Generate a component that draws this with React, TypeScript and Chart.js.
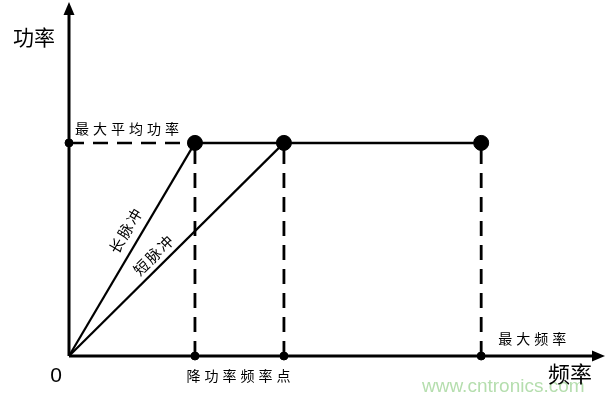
import React, { useEffect, useRef } from "react";
import { Chart, registerables } from "chart.js";

Chart.register(...registerables);

// Data (x: frequency units 0..100, y: power units 0..100)
const axisMax = [100, 100];
const longPulseFreq = 23.5; // frequency where long pulse reaches max power
const derateFreq = 40.1; // 降功率频率点 (short pulse)
const maxFreq = 76.9; // 最大频率
const maxAvgPower = 60.2; // 最大平均功率
const axisLabels = ["频率", "功率", "0"];
const pointLabels = ["最大平均功率", "降功率频率点", "最大频率"];
const lineLabels = ["长脉冲", "短脉冲"];
const watermark = "www.cntronics.com";

const CJK = '"Noto Sans CJK SC", "Noto Sans", sans-serif';

const annotPlugin = {
  id: "annot",
  afterDraw(chart: any) {
    const ctx = chart.ctx;
    const xs = chart.scales.x;
    const ys = chart.scales.y;
    const px = (v: number) => xs.getPixelForValue(v);
    const py = (v: number) => ys.getPixelForValue(v);
    const ox = px(0);
    const oy = py(0);
    ctx.save();
    // watermark
    ctx.fillStyle = "#b5deae";
    ctx.font = '19px "Liberation Sans", Arial, sans-serif';
    ctx.textAlign = "left";
    ctx.textBaseline = "alphabetic";
    ctx.fillText(watermark, 422, 392);

    // arrowheads
    ctx.fillStyle = "#000";
    const xt = px(axisMax[0]);
    ctx.beginPath();
    ctx.moveTo(xt, oy);
    ctx.lineTo(xt - 13, oy - 5.5);
    ctx.lineTo(xt - 13, oy + 5.5);
    ctx.closePath();
    ctx.fill();
    const yt = py(axisMax[1]);
    ctx.beginPath();
    ctx.moveTo(ox, yt);
    ctx.lineTo(ox - 5.5, yt + 13);
    ctx.lineTo(ox + 5.5, yt + 13);
    ctx.closePath();
    ctx.fill();

    // axis labels
    ctx.textAlign = "center";
    ctx.textBaseline = "middle";
    ctx.font = "22px " + CJK;
    ctx.fillText(axisLabels[0], xt - 35, oy + 18);
    ctx.font = "21px " + CJK;
    ctx.fillText(axisLabels[1], ox - 35, yt + 35);
    ctx.font = '21px "Liberation Sans", Arial, sans-serif';
    ctx.fillText(axisLabels[2], ox - 13, oy + 20);

    // point labels
    ctx.font = "14px " + CJK;
    (ctx as any).letterSpacing = "4px";
    ctx.fillText(pointLabels[0], (ox + px(longPulseFreq)) / 2 - 3, py(maxAvgPower) - 14);
    ctx.fillText(pointLabels[1], (px(longPulseFreq) + px(derateFreq)) / 2 + 1, oy + 20);
    ctx.fillText(pointLabels[2], px(maxFreq) + 53, oy - 17);

    // rotated line labels
    const drawAlong = (text: string, x1: number, y1: number, frac: number, off: number) => {
      const dx = x1 - ox;
      const dy = y1 - oy;
      const len = Math.hypot(dx, dy);
      const ux = dx / len;
      const uy = dy / len;
      const nx = uy;
      const ny = -ux;
      const cx = ox + dx * frac + nx * off;
      const cy = oy + dy * frac + ny * off;
      ctx.save();
      ctx.translate(cx, cy);
      ctx.rotate(Math.atan2(dy, dx));
      ctx.fillText(text, 0, 0);
      ctx.restore();
    };
    ctx.font = "15px " + CJK;
    (ctx as any).letterSpacing = "2px";
    drawAlong(lineLabels[0], px(longPulseFreq), py(maxAvgPower), 0.555, 15);
    drawAlong(lineLabels[1], px(derateFreq), py(maxAvgPower), 0.435, 12);
    ctx.restore();
  },
};

const line = (data: any[], width: number, dash: number[] = []) => ({
  type: "line" as const,
  data,
  borderColor: "#000",
  borderWidth: width,
  borderDash: dash,
  pointRadius: 0,
  fill: false,
  clip: false as any,
  tension: 0,
});

export default function App() {
  const ref = useRef<HTMLCanvasElement>(null);
  useEffect(() => {
    if (!ref.current) return;
    const dash = [15, 9];
    const chart = new Chart(ref.current, {
      type: "scatter",
      data: {
        datasets: [
          {
            type: "scatter",
            data: [
              { x: longPulseFreq, y: maxAvgPower },
              { x: derateFreq, y: maxAvgPower },
              { x: maxFreq, y: maxAvgPower },
            ],
            backgroundColor: "#000",
            borderColor: "#000",
            pointRadius: 7.5,
            clip: false as any,
          } as any,
          {
            type: "scatter",
            data: [
              { x: 0, y: maxAvgPower },
              { x: longPulseFreq, y: 0 },
              { x: derateFreq, y: 0 },
              { x: maxFreq, y: 0 },
            ],
            backgroundColor: "#000",
            borderColor: "#000",
            pointRadius: 4,
            clip: false as any,
          } as any,
          line([{ x: 0, y: 0 }, { x: longPulseFreq, y: maxAvgPower }], 2.2),
          line([{ x: 0, y: 0 }, { x: derateFreq, y: maxAvgPower }], 2.2),
          line([{ x: longPulseFreq, y: maxAvgPower }, { x: maxFreq, y: maxAvgPower }], 2.5),
          line([{ x: 0, y: maxAvgPower }, { x: longPulseFreq, y: maxAvgPower }], 2.5, dash),
          line([{ x: longPulseFreq, y: 0 }, { x: longPulseFreq, y: maxAvgPower }], 2.8, dash),
          line([{ x: derateFreq, y: 0 }, { x: derateFreq, y: maxAvgPower }], 2.8, dash),
          line([{ x: maxFreq, y: 0 }, { x: maxFreq, y: maxAvgPower }], 2.8, dash),
          line([{ x: 0, y: 0 }, { x: axisMax[0] - 2, y: 0 }], 3),
          line([{ x: 0, y: 0 }, { x: 0, y: axisMax[1] - 3 }], 3),
        ] as any,
      },
      options: {
        animation: false,
        responsive: false,
        layout: { autoPadding: false, padding: { left: 69, right: 1, top: 2, bottom: 44 } },
        plugins: { legend: { display: false }, tooltip: { enabled: false } },
        scales: {
          x: { type: "linear", min: 0, max: axisMax[0], display: false },
          y: { type: "linear", min: 0, max: axisMax[1], display: false },
        },
        events: [],
      } as any,
      plugins: [annotPlugin],
    });
    return () => chart.destroy();
  }, []);
  return (
    <div style={{ position: "absolute", left: 0, top: 0, width: 606, height: 400, background: "#fff" }}>
      <canvas ref={ref} width={606} height={400} style={{ width: 606, height: 400, display: "block" }} />
    </div>
  );
}
